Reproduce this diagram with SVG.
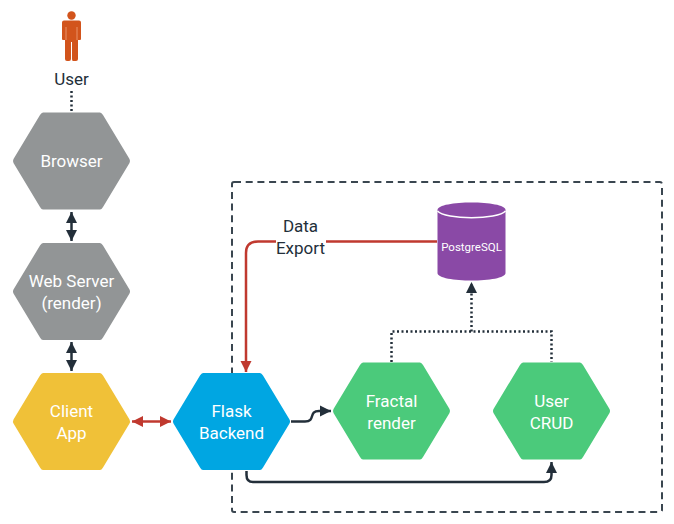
<svg xmlns="http://www.w3.org/2000/svg" width="674" height="524" viewBox="0 0 674 524">
<style>
text{font-family:Roboto,"Noto Sans",sans-serif;font-size:17px;text-anchor:middle}
.w{fill:#fff}.d{fill:#232f3a}
.dk{fill:none;stroke:#232f3a;stroke-width:2.5}
.red{fill:none;stroke:#c0392f;stroke-width:2.5}
.dot{fill:none;stroke:#232f3a;stroke-width:2.5;stroke-dasharray:2 2.5}
</style>
<defs>
<marker id="ad" markerUnits="userSpaceOnUse" markerWidth="12" markerHeight="12" refX="11" refY="6" orient="auto-start-reverse"><path d="M0 0.5L11 6L0 11.5Z" fill="#232f3a"/></marker>
<marker id="ar" markerUnits="userSpaceOnUse" markerWidth="12" markerHeight="12" refX="11" refY="6" orient="auto-start-reverse"><path d="M0 0.5L11 6L0 11.5Z" fill="#c0392f"/></marker>
<path id="h" d="M-28.500 -48.500H28.500Q30 -48.500 31.500 -46L58 -2Q59 0 58 2L31.500 46Q30 48.500 28.500 48.500H-28.500Q-30 48.500 -31.500 46L-58 2Q-59 0 -58 -2L-31.500 -46Q-30 -48.500 -28.500 -48.500Z"/>
</defs>
<rect id="boundary" x="232" y="182" width="430" height="330" rx="2" fill="none" stroke="#3a4650" stroke-width="2" stroke-dasharray="7 4.700"/>
<g id="connectors">
<path class="dot" d="M71.500 91V111"/>
<path class="dk" d="M71.500 212V241" marker-start="url(#ad)" marker-end="url(#ad)"/>
<path class="dk" d="M71.500 342V371" marker-start="url(#ad)" marker-end="url(#ad)"/>
<path class="red" d="M132 421.500H171" marker-start="url(#ar)" marker-end="url(#ar)"/>
<path class="dk" d="M291 421.500H305C316 421.500 308 411 319 411H331" marker-end="url(#ad)"/>
<path class="dk" d="M246.500 471V475Q246.500 482 253 482H544Q551.500 482 551.500 475V462" marker-end="url(#ad)"/>
<path class="red" d="M437 241.500H258Q246 241.500 246 253V372" marker-end="url(#ar)"/>
<path class="dot" d="M391.500 362V331.500H551.500V362"/>
<path class="dot" d="M471.500 331.500V282" marker-end="url(#ad)"/>
</g>
<g id="user">
<circle cx="71.500" cy="15.500" r="4.200" fill="#d2541c"/>
<path d="M64 20.500H79Q81 20.500 81 22.500V39Q81 40 80 40H78V59Q78 61 76 61H73Q72 61 72 59V42H71V59Q71 61 69 61H67Q65 61 65 59V40H63Q62 40 62 39V22.500Q62 20.500 64 20.500Z" fill="#d2541c"/>
<path d="M66 27V40M77 27V40" stroke="#efa27e" stroke-width="0.800" fill="none"/>
<text x="71.500" y="85" class="d">User</text>
</g>
<g id="browser"><use href="#h" x="71.500" y="161" fill="#929596"/><text x="71.500" y="167" class="w">Browser</text></g>
<g id="webserver"><use href="#h" x="71.500" y="291.500" fill="#929596"/><text x="71.500" y="287" class="w">Web Server</text><text x="71.500" y="309" class="w">(render)</text></g>
<g id="client"><use href="#h" x="71.500" y="421.500" fill="#f0c138"/><text x="71.500" y="417" class="w">Client</text><text x="71.500" y="439" class="w">App</text></g>
<g id="flask"><use href="#h" x="231.500" y="421.500" fill="#00a6e2"/><text x="231.500" y="417" class="w">Flask</text><text x="231.500" y="439" class="w">Backend</text></g>
<g id="fractal"><use href="#h" x="391.500" y="411" fill="#4bca7b"/><text x="391.500" y="407" class="w">Fractal</text><text x="391.500" y="429" class="w">render</text></g>
<g id="crud"><use href="#h" x="551.500" y="411" fill="#4bca7b"/><text x="551.500" y="407" class="w">User</text><text x="551.500" y="429" class="w">CRUD</text></g>
<g id="postgres">
<path d="M437.500 210C437.500 200 505.500 200 505.500 210V273C505.500 283 437.500 283 437.500 273Z" fill="#8a49a6"/>
<path d="M437.500 211C445 220 498 220 505.500 211" fill="none" stroke="#fff" stroke-width="1.500"/>
<text x="471.500" y="251" class="w" style="font-size:11.500px">PostgreSQL</text>
</g>
<g id="label"><rect x="276" y="218" width="50" height="40" fill="#fff"/><text x="300.500" y="232" class="d">Data</text><text x="300.500" y="254" class="d">Export</text></g>
</svg>
